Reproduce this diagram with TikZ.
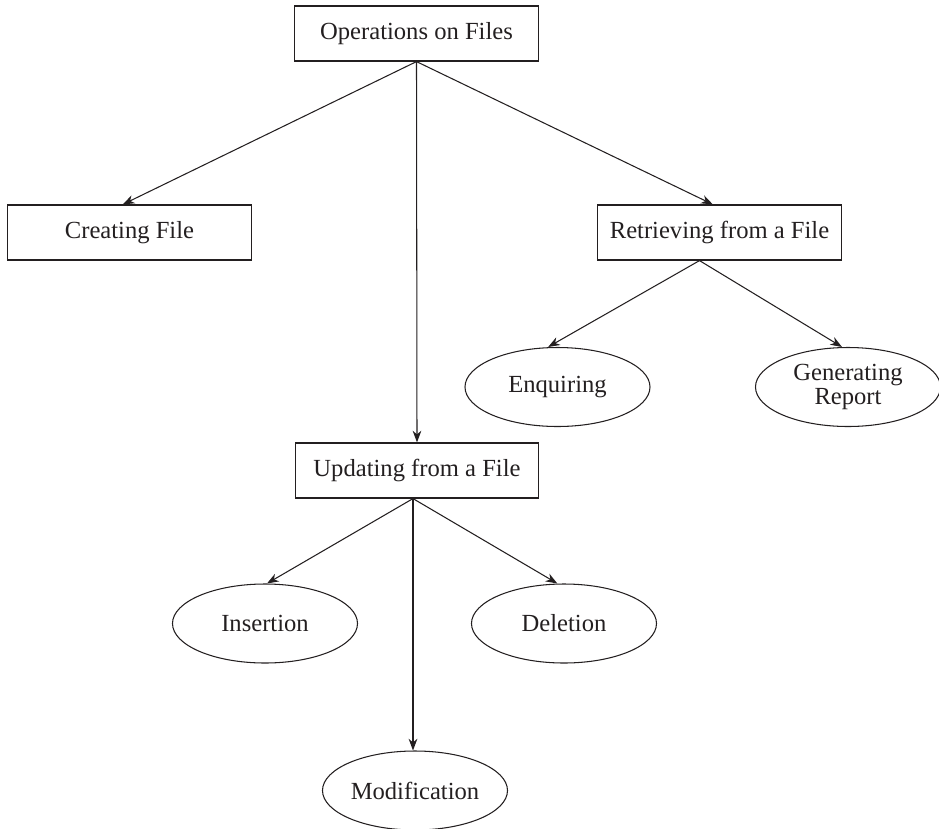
\documentclass[tikz,border=0pt]{standalone}
\usepackage{fontspec}
\setmainfont{Liberation Serif}
\usetikzlibrary{shapes.geometric,arrows.meta}
\definecolor{ink}{HTML}{231F20}
\begin{document}
\begin{tikzpicture}[x=0.03cm,y=-0.03cm,
  every node/.style={text=ink,font=\fontsize{21}{23}\selectfont},
  boxnode/.style={draw=ink,line width=1pt,rectangle,minimum width=7.3cm,minimum height=1.65cm,inner sep=0pt},
  ovalnode/.style={draw=ink,line width=0.9pt,ellipse,minimum width=5.55cm,minimum height=2.37cm,inner sep=0pt,align=center},
  link/.style={draw=ink,line width=0.9pt,-{Stealth[length=3.5mm,width=2.6mm,inset=1.1mm]}}]
\useasboundingbox (0,0) rectangle (939,829);
\node[boxnode] (root) at (416.5,33.5) {Operations on Files};
\node[boxnode] (create) at (129.5,232.5) {Creating File};
\node[boxnode] (retr) at (719.5,232.5) {Retrieving from a File};
\node[boxnode] (upd) at (417,470.5) {Updating from a File};
\node[ovalnode] (enq) at (557.5,387) {Enquiring};
\node[ovalnode] (gen) at (848,387) {Generating\\[-3pt]Report};
\node[ovalnode] (ins) at (265,623.5) {Insertion};
\node[ovalnode] (del) at (564,623.5) {Deletion};
\node[ovalnode] (mod) at (415,790.5) {Modification};
\draw[link] (root.south) -- ([xshift=-0.2cm]create.north);
\draw[link] (root.south) -- ([xshift=-0.2cm]retr.north);
\draw[link] (root.south) -- (upd.north);
\draw[link] ([xshift=-0.6cm]retr.south) -- ([xshift=-0.28cm]enq.north);
\draw[link] ([xshift=-0.6cm]retr.south) -- ([xshift=-0.18cm]gen.north);
\draw[link] ([xshift=-0.12cm]upd.south) -- ([xshift=0.06cm]ins.north);
\draw[link] ([xshift=-0.12cm]upd.south) -- ([xshift=-0.2cm]del.north);
\draw[link] ([xshift=-0.12cm]upd.south) -- ([xshift=-0.06cm]mod.north);
\end{tikzpicture}
\end{document}
